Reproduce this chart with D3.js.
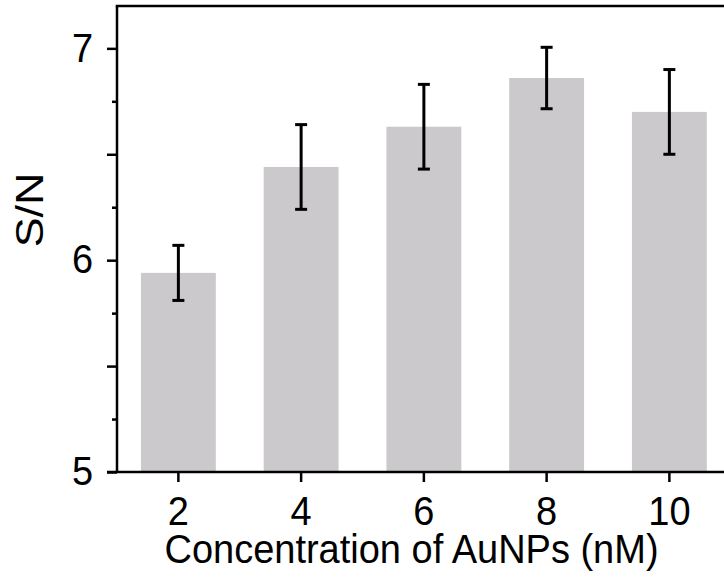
<!DOCTYPE html>
<html lang="en">
<head>
<meta charset="UTF-8">
<title>S/N vs AuNPs concentration</title>
<script src="https://d3js.org/d3.v7.min.js"></script>
<style>
    body {
        margin: 0;
        padding: 0;
        background: #fff;
        overflow: hidden;
    }
    svg {
        display: block;
        font-family: 'Liberation Sans', Arial, sans-serif;
    }
    .axis text {
        font-size: 40px;
        fill: #000;
    }
    .axis line,
    .axis path {
        stroke: #000;
        stroke-width: 2.5;
    }
</style>
</head>
<body>
<svg></svg>
<script>
    // data
    const concentrations = ["2", "4", "6", "8", "10"];
    const snValues = [5.94, 6.44, 6.63, 6.86, 6.70];
    const snErrors = [0.13, 0.20, 0.20, 0.145, 0.20];
    const yMajorTicks = [5, 5.5, 6, 6.5, 7];
    const yMinorTicks = [5.25, 5.75, 6.25, 6.75];

    const W = 724, H = 586;
    const plotLeft = 117, plotTop = 6, plotBottom = 472;
    const step = 122.75;
    const squeeze = "scale(0.95,1)"; // source font is a bit narrower than Arial

    const svg = d3.select("svg")
        .attr("width", W)
        .attr("height", H);

    const x = d3.scaleBand()
        .domain(concentrations)
        .range([plotLeft, plotLeft + step * concentrations.length])
        .paddingInner(0.39)
        .paddingOuter(0.195);

    const y = d3.scaleLinear()
        .domain([5, 7.2])
        .range([plotBottom, plotTop]);

    const data = concentrations.map((c, i) => ({ c, v: snValues[i], e: snErrors[i] }));

    // bars
    svg.append("g")
        .selectAll("rect")
        .data(data)
        .join("rect")
        .attr("x", d => x(d.c))
        .attr("width", x.bandwidth())
        .attr("y", d => y(d.v))
        .attr("height", d => y(5) - y(d.v))
        .attr("fill", "#cbc9cb");

    // error bars
    const err = svg.append("g")
        .attr("stroke", "#000")
        .attr("stroke-width", 3);
    const cx = d => x(d.c) + x.bandwidth() / 2;
    const cap = 6;
    data.forEach(d => {
        err.append("line")
            .attr("x1", cx(d)).attr("x2", cx(d))
            .attr("y1", y(d.v + d.e)).attr("y2", y(d.v - d.e));
        [d.v + d.e, d.v - d.e].forEach(v => {
            err.append("line")
                .attr("x1", cx(d) - cap).attr("x2", cx(d) + cap)
                .attr("y1", y(v)).attr("y2", y(v));
        });
    });

    // y axis: long ticks every 0.5, labels only on whole numbers
    const yAxis = svg.append("g")
        .attr("class", "axis")
        .attr("transform", `translate(${plotLeft},0)`)
        .call(d3.axisLeft(y)
            .tickValues(yMajorTicks)
            .tickSize(10)
            .tickSizeOuter(0)
            .tickPadding(15)
            .tickFormat(d => Number.isInteger(d) ? d : ""));
    yAxis.select(".domain").remove();
    yAxis.selectAll("text").attr("transform", squeeze);

    svg.append("g")
        .attr("class", "axis")
        .attr("transform", `translate(${plotLeft},0)`)
        .call(d3.axisLeft(y)
            .tickValues(yMinorTicks)
            .tickSize(5)
            .tickFormat(""))
        .select(".domain").remove();

    // x axis
    const xAxis = svg.append("g")
        .attr("class", "axis")
        .attr("transform", `translate(0,${plotBottom})`)
        .call(d3.axisBottom(x)
            .tickSize(10)
            .tickSizeOuter(0)
            .tickPadding(15));
    xAxis.select(".domain").remove();
    xAxis.selectAll("text").attr("transform", squeeze);

    // frame
    const frame = svg.append("g")
        .attr("stroke", "#000")
        .attr("stroke-width", 2.5)
        .attr("fill", "none");
    frame.append("line")
        .attr("x1", plotLeft).attr("x2", plotLeft)
        .attr("y1", plotTop).attr("y2", plotBottom);
    frame.append("line")
        .attr("x1", plotLeft - 10).attr("x2", W)
        .attr("y1", plotBottom).attr("y2", plotBottom);
    frame.append("line")
        .attr("x1", plotLeft - 1.25).attr("x2", W)
        .attr("y1", plotTop).attr("y2", plotTop);

    // axis titles
    svg.append("text")
        .attr("transform", `translate(411.5,563) ${squeeze}`)
        .attr("text-anchor", "middle")
        .attr("font-size", 40)
        .text("Concentration of AuNPs (nM)");

    svg.append("text")
        .attr("transform", "translate(43,210) rotate(-90) scale(1.15,1)")
        .attr("text-anchor", "middle")
        .attr("font-size", 39)
        .text("S/N");
</script>
</body>
</html>
